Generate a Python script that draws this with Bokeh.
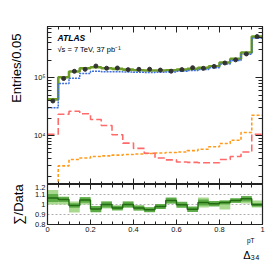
import numpy as np
from bokeh.plotting import figure
from bokeh.layouts import column
from bokeh.models import (FixedTicker, CustomJSTickFormatter, LinearAxis, LogAxis,
                          Label, Title, ColumnDataSource)
from bokeh.embed import file_html
from bokeh.resources import INLINE

# ---------------- data ----------------
bin_edges = [0.00, 0.05, 0.10, 0.15, 0.20, 0.25, 0.30, 0.35, 0.40, 0.45, 0.50,
             0.55, 0.60, 0.65, 0.70, 0.75, 0.80, 0.85, 0.90, 0.95, 1.00]

mc_total = [4.2e4, 1.01e5, 1.27e5, 1.45e5, 1.51e5, 1.45e5, 1.41e5, 1.37e5, 1.34e5, 1.32e5,
            1.32e5, 1.34e5, 1.37e5, 1.41e5, 1.47e5, 1.57e5, 1.82e5, 2.10e5, 2.70e5, 5.09e5]
mc_blue = [3.0e4, 7.9e4, 9.7e4, 1.17e5, 1.28e5, 1.26e5, 1.26e5, 1.25e5, 1.23e5, 1.22e5,
           1.23e5, 1.25e5, 1.28e5, 1.32e5, 1.38e5, 1.47e5, 1.71e5, 1.97e5, 2.53e5, 4.76e5]
mc_red = [1.05e4, 2.33e4, 2.62e4, 2.37e4, 1.89e4, 1.49e4, 1.03e4, 7.4e3, 6.0e3, 4.95e3,
          4.1e3, 3.8e3, 3.5e3, 3.45e3, 3.4e3, 3.4e3, 3.86e3, 4.35e3, 5.2e3, 1.05e4]
mc_orange = [9.0e2, 3.0e3, 3.86e3, 4.1e3, 4.35e3, 4.45e3, 4.6e3, 4.7e3, 4.8e3, 4.9e3,
             5.0e3, 5.1e3, 5.2e3, 5.5e3, 5.8e3, 6.4e3, 7.3e3, 8.3e3, 1.13e4, 2.24e4]
ratio = [1.065, 1.050, 0.990, 1.045, 0.955, 1.000, 0.965, 1.000, 0.965, 0.948,
         0.980, 1.040, 0.998, 0.953, 1.020, 1.007, 1.020, 1.040, 1.057, 0.997]
ratio_dark_err = [0.04, 0.025, 0.023, 0.027, 0.03, 0.03, 0.023, 0.03, 0.025, 0.025,
                  0.025, 0.03, 0.03, 0.028, 0.03, 0.027, 0.02, 0.023, 0.027, 0.017]
light_lo = [1.00, 1.00, 0.92, 1.00, 0.92, 0.96, 0.94, 0.97, 0.94, 0.925,
            0.955, 1.01, 0.97, 0.93, 0.97, 0.985, 0.95, 1.015, 1.01, 0.97]
light_hi = [1.145, 1.08, 1.03, 1.075, 0.98, 1.03, 0.99, 1.03, 0.99, 0.97,
            1.00, 1.065, 1.02, 0.975, 1.07, 1.03, 1.04, 1.06, 1.075, 1.04]

ratio_ticks = [0.8, 0.9, 1.0, 1.1, 1.2]
ratio_grid = [0.9, 1.0, 1.1]
x_major = [0.0, 0.2, 0.4, 0.6, 0.8, 1.0]
y_major = [1e4, 1e5]

# ---------------- derived ----------------
edges = np.array(bin_edges)
centers = 0.5 * (edges[:-1] + edges[1:])
data_pts = np.array(mc_total) / np.array(ratio)


def step_y(vals):
    v = list(vals)
    return v + [v[-1]]


FONT = "Liberation Sans"
AX = "#222222"
x_minor = [float(v) for v in np.round(np.arange(0, 1.0001, 0.05), 2)]
y_minor = [m * d for d in (1e3, 1e4, 1e5) for m in range(2, 10) if m * d < 8e5]

fmt_clean = CustomJSTickFormatter(code="return String(Math.round(tick*10)/10);")
fmt_log = CustomJSTickFormatter(code="""
const e = Math.round(Math.log10(tick));
const sup = {'3':'\u00b3','4':'\u2074','5':'\u2075','6':'\u2076'};
return '10' + sup[String(e)];
""")


def style_axis(ax, labels=True, tin=6, mtin=3):
    ax.axis_line_color = AX
    ax.axis_line_width = 1.2
    ax.major_tick_line_color = AX
    ax.minor_tick_line_color = AX
    ax.major_tick_in = tin
    ax.major_tick_out = 0
    ax.minor_tick_in = mtin
    ax.minor_tick_out = 0
    ax.major_label_text_font = FONT
    ax.major_label_text_color = "#111111"
    if labels:
        ax.major_label_text_font_size = "7.5px"
        ax.major_label_standoff = 2
    else:
        ax.major_label_text_font_size = "0px"
        ax.major_label_standoff = 0
        ax.formatter = CustomJSTickFormatter(code="return '';")


def ytitle(text, align, offset=0):
    return Title(text=text, align=align, offset=offset, text_font=FONT,
                 text_font_size="13px", text_font_style="normal", text_color="black",
                 standoff=13)


LEFT = 46

# ---------------- main panel ----------------
p1 = figure(frame_width=215, frame_height=158, y_axis_type="log",
            x_range=(0, 1), y_range=(1430, 7.6e5),
            min_border_left=LEFT, min_border_right=10, min_border_top=26, min_border_bottom=0,
            output_backend="svg", toolbar_location=None)
p1.grid.visible = False
p1.outline_line_color = AX
p1.background_fill_color = "white"

p1.xaxis.ticker = FixedTicker(ticks=x_major, minor_ticks=x_minor)
style_axis(p1.xaxis[0], labels=False, tin=6, mtin=3)
p1.yaxis.ticker = FixedTicker(ticks=y_major, minor_ticks=y_minor)
style_axis(p1.yaxis[0], labels=True, tin=7, mtin=4)
p1.yaxis.formatter = fmt_log

ax_top = LinearAxis(ticker=FixedTicker(ticks=x_major, minor_ticks=x_minor))
style_axis(ax_top, labels=False, tin=6, mtin=3)
p1.add_layout(ax_top, "above")
ax_right = LogAxis(ticker=FixedTicker(ticks=y_major, minor_ticks=y_minor))
style_axis(ax_right, labels=False, tin=7, mtin=4)
p1.add_layout(ax_right, "right")

p1.step(list(edges), step_y(mc_orange), mode="after", line_color="#ff9a1a",
        line_width=1.6, line_dash="3 2")
p1.step(list(edges), step_y(mc_red), mode="after", line_color="#ff6b6b",
        line_width=1.6, line_dash="7 3")
p1.step(list(edges), step_y(mc_total), mode="after", line_color="#6d9d24",
        line_width=2.6)
p1.step(list(edges), step_y(mc_blue), mode="after", line_color="#3f6fdc",
        line_width=1.5, line_dash="2 1")
p1.scatter(centers, data_pts, size=4, color="#333333")

p1.add_layout(Label(x=10, y=142, x_units="screen", y_units="screen", text="ATLAS",
                    text_font=FONT, text_font_size="8.5px", text_font_style="bold italic",
                    text_color="black"))
p1.add_layout(Label(x=10, y=131, x_units="screen", y_units="screen",
                    text="\u221as = 7 TeV, 37 pb\u207b\u00b9",
                    text_font=FONT, text_font_size="7.5px", text_color="black"))
p1.add_layout(ytitle("Entries/0.05", "right", offset=7), "left")

# ---------------- ratio panel ----------------
p2 = figure(frame_width=215, frame_height=40, x_range=p1.x_range, y_range=(0.8, 1.2),
            min_border_left=LEFT, min_border_right=10, min_border_top=0, min_border_bottom=20,
            output_backend="svg", toolbar_location=None)
p2.outline_line_color = AX
p2.xgrid.visible = False
p2.ygrid.ticker = FixedTicker(ticks=ratio_grid)
p2.ygrid.grid_line_color = "#999999"
p2.ygrid.grid_line_dash = "2 2"
p2.ygrid.grid_line_width = 0.8

p2.xaxis.ticker = FixedTicker(ticks=x_major, minor_ticks=x_minor)
style_axis(p2.xaxis[0], labels=True, tin=5, mtin=3)
p2.xaxis.formatter = fmt_clean
p2.yaxis.ticker = FixedTicker(ticks=ratio_ticks, minor_ticks=[])
style_axis(p2.yaxis[0], labels=True, tin=0, mtin=0)
p2.yaxis.formatter = fmt_clean

ax2_top = LinearAxis(ticker=FixedTicker(ticks=x_major, minor_ticks=x_minor))
style_axis(ax2_top, labels=False, tin=5, mtin=3)
p2.add_layout(ax2_top, "above")
ax2_right = LinearAxis(ticker=FixedTicker(ticks=ratio_ticks, minor_ticks=[]))
style_axis(ax2_right, labels=False, tin=0, mtin=0)
p2.add_layout(ax2_right, "right")

src = ColumnDataSource(dict(
    left=edges[:-1], right=edges[1:],
    llo=light_lo, lhi=light_hi,
    dlo=np.array(ratio) - np.array(ratio_dark_err),
    dhi=np.array(ratio) + np.array(ratio_dark_err)))
p2.quad(left="left", right="right", bottom="llo", top="lhi", source=src,
        fill_color="#a9d88f", line_color=None)
p2.quad(left="left", right="right", bottom="dlo", top="dhi", source=src,
        fill_color="#4fa33a", fill_alpha=0.85, line_color=None)
p2.step(list(edges), step_y(ratio), mode="after", line_color="#226b12", line_width=1.4)

p2.add_layout(ytitle("\u2211/Data", "center"), "left")
p2.add_layout(Title(text="pT", align="right", offset=8, standoff=1, text_font=FONT,
                    text_font_size="6.5px", text_font_style="normal", text_color="black"),
              "below")
p2.add_layout(Title(text="\u0394\u2083\u2084", align="right", offset=3, standoff=5,
                    text_font=FONT, text_font_size="11px", text_font_style="normal",
                    text_color="black"), "below")

layout = column(p1, p2, spacing=0)
open("out.html", "w").write(file_html(layout, INLINE))
